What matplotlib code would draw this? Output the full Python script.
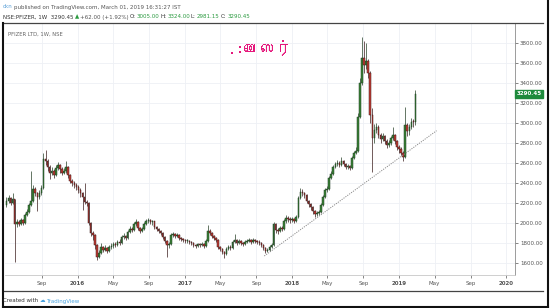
import numpy as np
import pandas as pd
import matplotlib
matplotlib.use('Agg')
import matplotlib.pyplot as plt
import matplotlib.dates as mdates
from matplotlib import font_manager, ft2font
from matplotlib.lines import Line2D

# ---------------- data (weekly candles, NSE:PFIZER) ----------------
start_week = '2015-05-04'
n_weeks = 200

opens = [
    2180, 2220, 2250, 2200, 2240, 1990, 2010, 1990, 2030, 2000,
    2080, 2110, 2180, 2220, 2340, 2300, 2260, 2300, 2350, 2640,
    2620, 2560, 2500, 2520, 2480, 2550, 2580, 2540, 2500, 2520,
    2560, 2480, 2420, 2400, 2380, 2360, 2330, 2300, 2260, 2210,
    2200, 2000, 1900, 1880, 1780, 1660, 1700, 1760, 1730, 1750,
    1720, 1760, 1770, 1790, 1780, 1810, 1800, 1860, 1870, 1850,
    1910, 1940, 1930, 1990, 2010, 1950, 1920, 1940, 1990, 2020,
    2030, 2010, 2020, 1960, 1940, 1920, 1900, 1860, 1820, 1780,
    1790, 1880, 1890, 1870, 1880, 1850, 1840, 1830, 1820, 1820,
    1810, 1800, 1780, 1770, 1790, 1780, 1790, 1770, 1820, 1920,
    1900, 1870, 1850, 1830, 1760, 1740, 1710, 1690, 1740, 1760,
    1750, 1810, 1830, 1800, 1820, 1800, 1790, 1810, 1820, 1830,
    1810, 1830, 1820, 1810, 1800, 1780, 1750, 1720, 1730, 1760,
    1780, 1990, 1930, 1920, 1950, 1940, 2020, 2050, 2040, 2030,
    2040, 2020, 2060, 2250, 2310, 2300, 2280, 2220, 2190, 2160,
    2120, 2090, 2100, 2110, 2180, 2260, 2330, 2340, 2450, 2490,
    2560, 2590, 2600, 2580, 2620, 2590, 2560, 2570, 2550, 2650,
    2700, 2720, 3060, 3400, 3650, 3580, 3620, 3500, 3080, 2850,
    2930, 2960, 2880, 2840, 2870, 2820, 2780, 2800, 2850, 2880,
    2820, 2760, 2740, 2700, 2660, 2980, 2920, 2960, 3010, 3005,
]
highs = [
    2260, 2280, 2260, 2300, 2240, 2040, 2030, 2050, 2040, 2100,
    2140, 2200, 2520, 2380, 2360, 2310, 2330, 2380, 2700, 2730,
    2640, 2580, 2560, 2540, 2580, 2610, 2590, 2560, 2550, 2620,
    2570, 2490, 2440, 2420, 2400, 2380, 2350, 2310, 2400, 2230,
    2210, 2010, 1920, 1890, 1790, 1730, 1800, 1770, 1780, 1760,
    1780, 1800, 1810, 1810, 1830, 1840, 1880, 1900, 1880, 1930,
    1970, 1960, 2010, 2040, 2020, 1960, 1960, 2010, 2040, 2050,
    2040, 2030, 2020, 1970, 1950, 1930, 1910, 1870, 1830, 1810,
    1900, 1910, 1900, 1900, 1890, 1860, 1850, 1840, 1840, 1830,
    1820, 1810, 1790, 1800, 1800, 1810, 1800, 1840, 1980, 1940,
    1910, 1880, 1860, 1840, 1770, 1750, 1720, 1760, 1780, 1780,
    1830, 1890, 1840, 1840, 1830, 1810, 1830, 1840, 1850, 1840,
    1850, 1840, 1830, 1830, 1810, 1790, 1760, 1750, 1780, 1800,
    2010, 2000, 1950, 1970, 1970, 2040, 2080, 2070, 2060, 2060,
    2050, 2080, 2270, 2350, 2340, 2310, 2290, 2230, 2200, 2170,
    2130, 2120, 2130, 2200, 2280, 2350, 2370, 2470, 2520, 2580,
    2610, 2630, 2620, 2660, 2630, 2600, 2590, 2580, 2670, 2720,
    2760, 3100, 3450, 3860, 3820, 3800, 3640, 3520, 3150, 2990,
    3000, 2980, 2900, 2900, 2880, 2840, 2830, 2870, 2960, 2890,
    2830, 2780, 2760, 2720, 3160, 3000, 2990, 3050, 3040, 3324,
]
lows = [
    2160, 2200, 2180, 2190, 1610, 1960, 1970, 1980, 1980, 1990,
    2070, 2100, 2170, 2210, 2270, 2120, 2240, 2280, 2340, 2580,
    2520, 2440, 2480, 2450, 2470, 2530, 2500, 2480, 2490, 2500,
    2450, 2400, 2370, 2350, 2330, 2300, 2260, 2130, 2190, 2170,
    1980, 1870, 1830, 1740, 1625, 1650, 1690, 1710, 1720, 1700,
    1710, 1740, 1750, 1760, 1770, 1780, 1790, 1840, 1830, 1840,
    1900, 1910, 1920, 1970, 1930, 1900, 1910, 1930, 1980, 2000,
    1990, 1980, 1940, 1920, 1900, 1880, 1840, 1800, 1660, 1750,
    1780, 1860, 1850, 1860, 1830, 1820, 1810, 1800, 1800, 1790,
    1780, 1760, 1750, 1760, 1760, 1770, 1750, 1760, 1810, 1880,
    1850, 1830, 1810, 1740, 1720, 1690, 1650, 1680, 1730, 1730,
    1740, 1800, 1780, 1790, 1780, 1770, 1780, 1800, 1810, 1790,
    1800, 1800, 1790, 1780, 1760, 1730, 1700, 1710, 1720, 1750,
    1770, 1900, 1890, 1910, 1920, 1930, 2000, 2010, 2000, 2010,
    2000, 2010, 2050, 2240, 2270, 2250, 2200, 2160, 2130, 2090,
    2060, 2070, 2080, 2100, 2170, 2250, 2310, 2330, 2440, 2480,
    2550, 2570, 2560, 2570, 2570, 2540, 2540, 2530, 2540, 2640,
    2690, 2710, 3050, 3380, 3500, 3540, 3450, 3000, 2510, 2800,
    2900, 2850, 2800, 2820, 2790, 2750, 2760, 2780, 2830, 2790,
    2730, 2700, 2680, 2620, 2650, 2870, 2880, 2940, 2960, 2981.15,
]
closes = [
    2220, 2250, 2200, 2240, 1990, 2010, 1990, 2030, 2000, 2080,
    2110, 2180, 2220, 2340, 2300, 2260, 2300, 2350, 2640, 2620,
    2560, 2500, 2520, 2480, 2550, 2580, 2540, 2500, 2520, 2560,
    2480, 2420, 2400, 2380, 2360, 2330, 2300, 2260, 2210, 2200,
    2000, 1900, 1880, 1780, 1660, 1700, 1760, 1730, 1750, 1720,
    1760, 1770, 1790, 1780, 1810, 1800, 1860, 1870, 1850, 1910,
    1940, 1930, 1990, 2010, 1950, 1920, 1940, 1990, 2020, 2030,
    2010, 2020, 1960, 1940, 1920, 1900, 1860, 1820, 1780, 1790,
    1880, 1890, 1870, 1880, 1850, 1840, 1830, 1820, 1820, 1810,
    1800, 1780, 1770, 1790, 1780, 1790, 1770, 1820, 1920, 1900,
    1870, 1850, 1830, 1760, 1740, 1710, 1690, 1740, 1760, 1750,
    1810, 1830, 1800, 1820, 1800, 1790, 1810, 1820, 1830, 1810,
    1830, 1820, 1810, 1800, 1780, 1750, 1720, 1730, 1760, 1780,
    1990, 1930, 1920, 1950, 1940, 2020, 2050, 2040, 2030, 2040,
    2020, 2060, 2250, 2310, 2300, 2280, 2220, 2190, 2160, 2120,
    2090, 2100, 2110, 2180, 2260, 2330, 2340, 2450, 2490, 2560,
    2590, 2600, 2580, 2620, 2590, 2560, 2570, 2550, 2650, 2700,
    2720, 3060, 3400, 3650, 3580, 3620, 3500, 3080, 2850, 2930,
    2960, 2880, 2840, 2870, 2820, 2780, 2800, 2850, 2880, 2820,
    2760, 2740, 2700, 2660, 2980, 2920, 2960, 3010, 3005, 3290.45,
]

price_ticks = [1600, 1800, 2000, 2200, 2400, 2600, 2800, 3000, 3200, 3400, 3600, 3800]
time_tick_dates = ['2015-09-01', '2016-01-01', '2016-05-01', '2016-09-01', '2017-01-01',
                   '2017-05-01', '2017-09-01', '2018-01-01', '2018-05-01', '2018-09-01',
                   '2019-01-01', '2019-05-01', '2019-09-01', '2020-01-01']
time_tick_labels = ['Sep', '2016', 'May', 'Sep', '2017', 'May', 'Sep', '2018',
                    'May', 'Sep', '2019', 'May', 'Sep', '2020']
trend_dates = ['2017-09-28', '2019-05-08']
trend_values = [1667, 2920]
last_price = 3290.45
title_text = '.:பைஸர்'

# ---------------- fonts ----------------
def font_with(ch):
    for f in font_manager.fontManager.ttflist:
        try:
            if ft2font.FT2Font(f.fname).get_char_index(ord(ch)):
                return f.name
        except Exception:
            pass
    return None

tamil_font = font_with('ப')
title_family = [tamil_font, 'DejaVu Sans'] if tamil_font else ['DejaVu Sans']
plt.rcParams['font.family'] = ['DejaVu Sans']

W, H = 550, 308
fig = plt.figure(figsize=(W / 100, H / 100), dpi=100)
fig.patch.set_facecolor('white')

def fx(px):
    return px / W

def fy(py):
    return 1 - py / H

ax = fig.add_axes([fx(5), fy(275), fx(515) - fx(5), fy(23) - fy(275)])
ax.set_facecolor('white')

dates = pd.date_range(start_week, periods=n_weeks, freq='W-MON')
xd = mdates.date2num(dates.to_pydatetime())
o = np.array(opens, float)
h = np.array(highs, float)
l = np.array(lows, float)
c = np.array(closes, float)
up = c >= o

# grid
for v in price_ticks:
    ax.axhline(v, color='#eef0f5', lw=0.6, zorder=0)
tick_x = mdates.date2num(pd.to_datetime(time_tick_dates).to_pydatetime())
for t in tick_x:
    ax.axvline(t, color='#eef0f5', lw=0.6, zorder=0)

# candles
wick_col = np.where(up, '#4a5f4a', '#5a4040')
ax.vlines(xd, l, h, colors=list(wick_col), lw=0.6, zorder=2)
body_bottom = np.minimum(o, c)
body_h = np.maximum(np.abs(c - o), 10)
ax.bar(xd[up], body_h[up], bottom=body_bottom[up], width=5.2,
       color='#3a8236', edgecolor='#1f3d22', lw=0.35, zorder=3)
ax.bar(xd[~up], body_h[~up], bottom=body_bottom[~up], width=5.2,
       color='#c23c34', edgecolor='#3d1a1a', lw=0.35, zorder=3)

# trend line
td = mdates.date2num(pd.to_datetime(trend_dates).to_pydatetime())
ax.plot(td, trend_values, color='#8a8a8a', lw=0.7, ls=(0, (1.2, 1.2)), zorder=4)

ax.set_ylim(1477, 3997)
ax.set_xlim(mdates.date2num(pd.Timestamp('2015-04-29')), mdates.date2num(pd.Timestamp('2020-01-30')))

ax.yaxis.tick_right()
ax.set_yticks(price_ticks)
ax.set_yticklabels(['%.2f' % v for v in price_ticks])
ax.set_xticks(tick_x)
ax.set_xticklabels(time_tick_labels)
for lab, txt in zip(ax.get_xticklabels(), time_tick_labels):
    if txt.isdigit():
        lab.set_fontweight('bold')
ax.tick_params(axis='y', labelsize=4, colors='#555555', length=2, width=0.5, pad=1.5)
ax.tick_params(axis='x', labelsize=4, colors='#555555', length=2, width=0.5, pad=2)
for s in ['top', 'left']:
    ax.spines[s].set_visible(False)
ax.spines['right'].set_color('#8c8c8c')
ax.spines['right'].set_linewidth(0.6)
ax.spines['bottom'].set_color('#c8c8c8')
ax.spines['bottom'].set_linewidth(0.6)

# last price label
ax.text(1.003, last_price, '%.2f' % last_price, transform=ax.get_yaxis_transform(),
        ha='left', va='center', fontsize=4, color='white', fontweight='bold',
        bbox=dict(boxstyle='square,pad=0.25', fc='#1e8a3c', ec='#1e8a3c'), zorder=6, clip_on=False)

# frame lines
def fline(x0, y0, x1, y1, col, lw):
    fig.add_artist(Line2D([fx(x0), fx(x1)], [fy(y0), fy(y1)], color=col, lw=lw,
                          transform=fig.transFigure))

fline(3, 23, 543, 23, '#444444', 0.9)
fline(3, 291, 543, 291, '#444444', 0.9)
fline(3, 23, 3, 307, '#111111', 1.5)
fline(3, 306.5, 548, 306.5, '#111111', 1.5)
fline(547.5, 0, 547.5, 307, '#111111', 1.5)

# rich text helper
renderer = fig.canvas.get_renderer()

def rich(x, y, pieces, size, gap=1.2):
    xp = x
    for s, col in pieces:
        t = fig.text(fx(xp), fy(y), s, color=col, fontsize=size, ha='left', va='center')
        xp += t.get_window_extent(renderer=renderer).width + gap

grey = '#555555'
green = '#2a9a3f'
rich(3, 7, [('ckn', '#5aa0d8'), ('published on TradingView.com, March 01, 2019 16:31:27 IST', grey)], 4)
rich(3, 17, [('NSE:PFIZER, 1W  3290.45', '#333333'), ('▲', green), ('+62.00 (+1.92%)', grey),
             ('O:', '#333333'), ('3005.00', green), ('H:', '#333333'), ('3324.00', green),
             ('L:', '#333333'), ('2981.15', green), ('C:', '#333333'), ('3290.45', green)], 4, gap=1.0)
fig.text(fx(8), fy(34), 'PFIZER LTD, 1W, NSE', fontsize=3.8, color='#666666', ha='left', va='center')
rich(3, 301, [('Created with', '#333333'), ('☁', '#4aa3df'), ('TradingView', '#4aa3df')], 4)

fig.text(fx(228), fy(48), title_text, family=title_family, fontsize=11.5,
         color='#e5177b', ha='left', va='center')

fig.savefig('out.png', dpi=100, facecolor='white')
